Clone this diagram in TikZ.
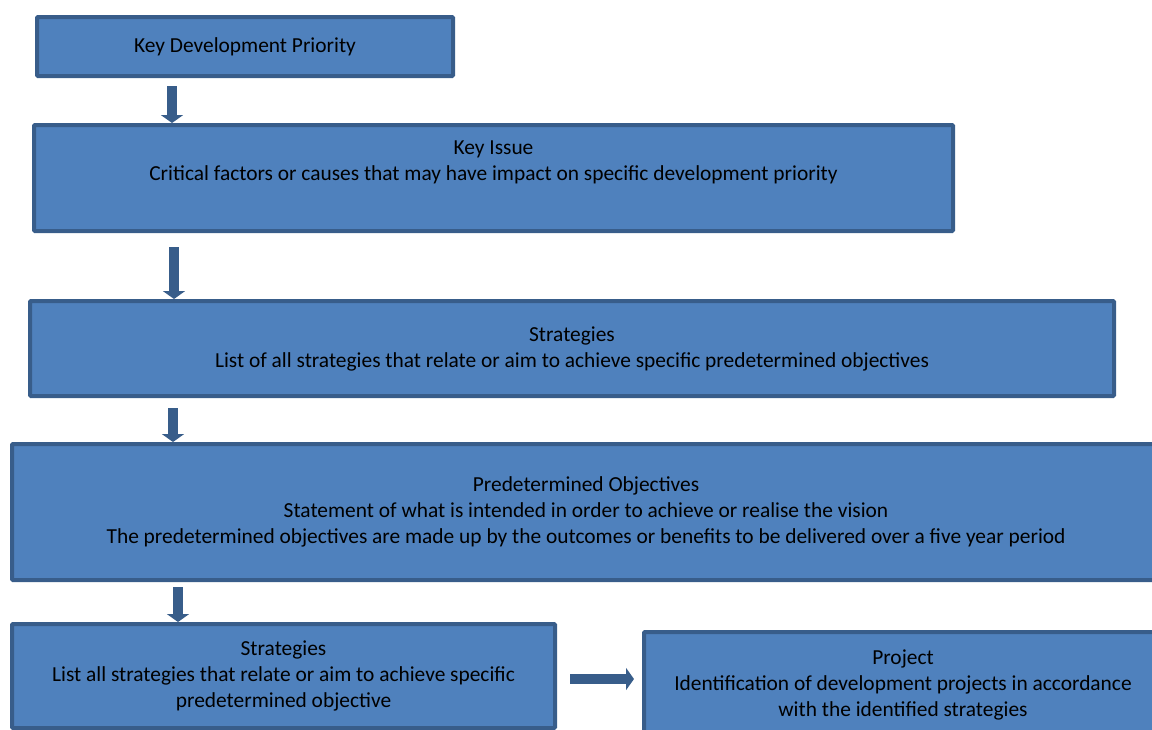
\documentclass[tikz,border=0pt]{standalone}
\usepackage{fontspec}
\setmainfont{Carlito}
\usetikzlibrary{calc, arrows.meta}
\definecolor{boxfill}{HTML}{4F81BD}
\definecolor{boxline}{HTML}{385D8A}

\begin{document}
\begin{tikzpicture}[x=0.5pt, y=-0.5pt,
  box/.style={draw=boxline, fill=boxfill, line width=2pt, rounded corners=0.5pt,
    anchor=north west, align=center, inner sep=0pt, font=\fontsize{10.7}{13}\selectfont},
  flow/.style={draw=boxline, line width=5pt, -{Triangle[width=11pt, length=4pt]}}]
  \useasboundingbox (0,0) rectangle (1152,729);

  % Key development priority
  \node[box, minimum width=208pt, minimum height=29.5pt] (kdp) at (35,15) {Key Development Priority};

  % Key issue
  \node[box, minimum width=459.5pt, minimum height=53pt] (issue) at (32,123)
    {Key Issue\\Critical factors or causes that may have impact on specific development priority\\\strut};

  % Strategies
  \node[box, minimum width=542pt, minimum height=47.5pt] (strat1) at (28,299)
    {Strategies\\List of all strategies that relate or aim to achieve specific predetermined objectives};

  % Predetermined objectives
  \node[box, minimum width=574pt, minimum height=68pt] (obj) at (10,442)
    {Predetermined Objectives\\Statement of what is intended in order to achieve or realise the vision\\The predetermined objectives are made up by the outcomes or benefits to be delivered over a five year period};

  % Strategies (second level)
  \node[box, minimum width=271.5pt, minimum height=52pt] (strat2) at (10,622)
    {Strategies\\List all strategies that relate or aim to achieve specific\\predetermined objective};

  % Project
  \node[box, minimum width=259pt, minimum height=53pt] (project) at (642,630)
    {Project\\Identification of development projects in accordance\\with the identified strategies};

  % Arrow start points
  \coordinate (a1) at ($(kdp.south west)+(137,8)$);
  \coordinate (a2) at ($(issue.south west)+(142,14)$);
  \coordinate (a3) at ($(strat1.south west)+(145,10)$);
  \coordinate (a4) at ($(obj.south west)+(168,5)$);
  \coordinate (h1) at ($(strat2.east)+(13,3)$);
  \coordinate (h2) at ($(project.west)+(-8,0)$);

  % Connections
  \draw[flow] (a1) -- (a1 |- issue.north);
  \draw[flow] (a2) -- (a2 |- strat1.north);
  \draw[flow] (a3) -- (a3 |- obj.north);
  \draw[flow] (a4) -- (a4 |- strat2.north);
  \draw[flow] (h1) -- (h1 -| h2);

\end{tikzpicture}
\end{document}
